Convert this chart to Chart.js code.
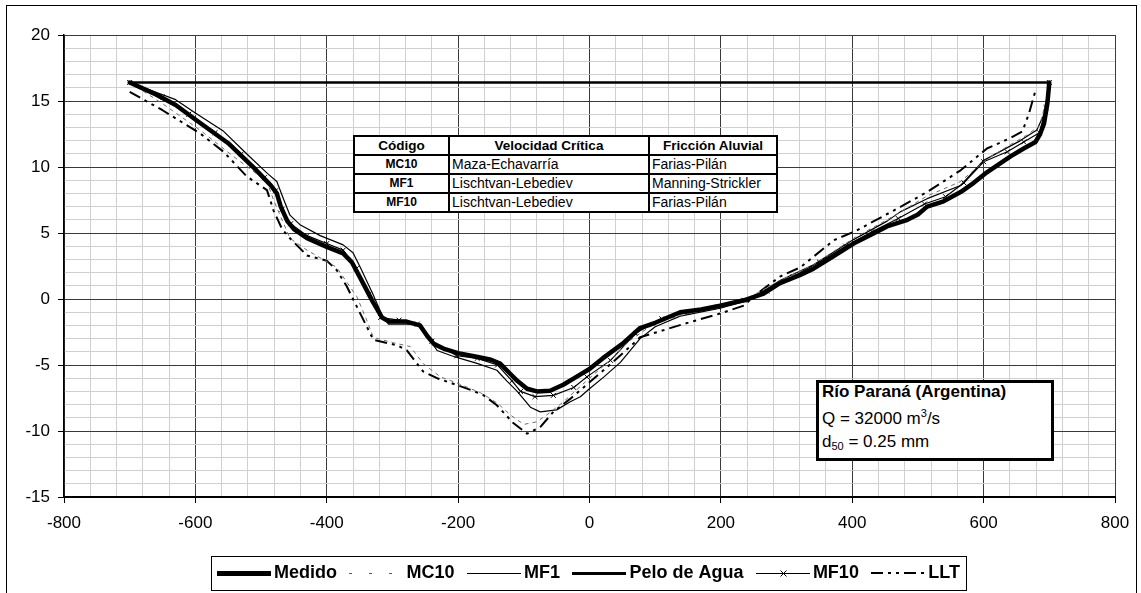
<!DOCTYPE html>
<html>
<head>
<meta charset="utf-8">
<title>Río Paraná - perfiles de socavación</title>
<script src="https://cdn.jsdelivr.net/npm/chart.js@4.4.0/dist/chart.umd.min.js"></script>
<style>
    html, body { margin: 0; padding: 0; background: #fff; }
    #wrap { position: relative; width: 1141px; height: 593px; overflow: hidden; font-family: "Liberation Sans", Arial, sans-serif; }
    #plot { position: absolute; left: 0; top: 0; }
    #frame { position: absolute; left: 6px; top: 5px; width: 1131px; height: 640px; border: 1px solid #000; box-sizing: border-box; pointer-events: none; }
    #codes { position: absolute; left: 353px; top: 135px; width: 423px; border-collapse: collapse; table-layout: fixed; background: #fff; }
    #codes th, #codes td { border: 2px solid #000; height: 17px; padding: 0 2px; white-space: nowrap; line-height: 15px; }
    #codes th { font-size: 13.5px; font-weight: bold; text-align: center; }
    #codes td { font-size: 14px; text-align: left; }
    #codes td.code { font-size: 12px; font-weight: bold; text-align: center; }
    #river { position: absolute; left: 816px; top: 380px; width: 238px; height: 81px; border: 3px solid #000; box-sizing: border-box; background: #fff; font-size: 17px; }
    #river div { position: absolute; left: 3px; white-space: nowrap; line-height: 19px; }
    #river sup, #river sub { font-size: 11px; line-height: 0; }
    #river sup { vertical-align: 7px; }
    #river sub { vertical-align: -3px; }
</style>
</head>
<body>
<div id="wrap">
    <canvas id="plot" width="1141" height="593"></canvas>
    <table id="codes">
        <colgroup><col style="width:95px"><col style="width:200px"><col style="width:128px"></colgroup>
        <tr><th>Código</th><th>Velocidad Crítica</th><th>Fricción Aluvial</th></tr>
        <tr><td class="code">MC10</td><td>Maza-Echavarría</td><td>Farias-Pilán</td></tr>
        <tr><td class="code">MF1</td><td>Lischtvan-Lebediev</td><td>Manning-Strickler</td></tr>
        <tr><td class="code">MF10</td><td>Lischtvan-Lebediev</td><td>Farias-Pilán</td></tr>
    </table>
    <div id="river">
        <div style="top:-1px;font-weight:bold">Río Paraná (Argentina)</div>
        <div style="top:26px">Q = 32000 m<sup>3</sup>/s</div>
        <div style="top:49px">d<sub>50</sub> = 0.25 mm</div>
    </div>
    <div id="frame"></div>
</div>
<script>
// Perfil medido del lecho (m) contra la abscisa transversal (m)
const medidoX = [-700, -660, -630, -600, -550, -510, -485, -476, -470, -460,
    -450, -430, -400, -375, -362, -349, -330, -316, -305, -280,
    -258, -247, -237, -220, -200, -170, -150, -136, -120, -110,
    -95, -80, -60, -40, -20, 0, 20, 50, 77, 100,
    138, 170, 199, 235, 265, 290, 320, 341, 370, 402,
    430, 453, 484, 500, 514, 539, 565, 585, 605, 641,
    661, 679, 686, 692, 697, 700]
const medidoY = [16.4, 15.5, 14.7, 13.6, 11.8, 9.9, 8.6, 8.0, 7.0, 5.9,
    5.3, 4.6, 3.95, 3.45, 2.8, 1.6, -0.2, -1.4, -1.7, -1.7,
    -2.0, -2.8, -3.4, -3.8, -4.1, -4.4, -4.6, -4.9, -5.7, -6.2,
    -6.8, -7.0, -6.95, -6.5, -5.9, -5.3, -4.5, -3.4, -2.2, -1.8,
    -1.0, -0.8, -0.5, -0.1, 0.4, 1.2, 1.8, 2.3, 3.2, 4.2,
    4.9, 5.5, 6.0, 6.4, 7.0, 7.4, 8.1, 8.8, 9.6, 10.8,
    11.4, 11.9, 12.5, 13.3, 14.8, 16.4]

// MC10: Maza-Echavarría / Farias-Pilán
const mc10X = [-700, -650, -593, -542, -491, -481, -456, -430, -385, -354,
    -340, -329, -300, -273, -253, -227, -200, -166, -140, -120,
    -100, -80, -60, -40, -20, 0, 30, 60, 100, 150,
    199, 235, 290, 341, 402, 453, 514, 565, 605, 641,
    665, 685, 695, 700]
const mc10Y = [16.4, 14.8, 12.8, 10.8, 8.9, 7.5, 4.6, 3.7, 2.4, 0.16,
    -1.5, -2.9, -3.3, -3.6, -4.9, -5.9, -6.4, -7.1, -7.9, -8.8,
    -9.5, -9.3, -8.6, -7.8, -6.9, -6.0, -4.7, -3.2, -1.8, -1.1,
    -0.6, -0.1, 1.4, 2.6, 4.6, 6.0, 7.8, 8.9, 10.6, 11.7,
    12.4, 13.1, 15.0, 16.4]

// MF1: Lischtvan-Lebediev / Manning-Strickler
const mf1X = [-700, -630, -600, -557, -522, -490, -476, -466, -456, -440,
    -410, -375, -360, -349, -330, -315, -306, -263, -250, -232,
    -210, -197, -170, -141, -126, -110, -90, -75, -50, -30,
    -14, 0, 22, 47, 77, 100, 138, 199, 235, 265,
    290, 341, 402, 453, 473, 514, 565, 600, 656, 681,
    692, 700]
const mf1Y = [16.4, 15.1, 14.1, 12.7, 11.0, 9.5, 8.9, 7.6, 6.35, 5.6,
    4.8, 4.1, 3.5, 2.4, 0.4, -1.3, -1.9, -1.9, -2.6, -3.9,
    -4.3, -4.5, -4.9, -5.4, -6.2, -7.0, -8.2, -8.55, -8.4, -7.8,
    -7.4, -6.8, -5.9, -4.8, -3.0, -2.1, -1.3, -0.7, -0.2, 0.6,
    1.4, 2.6, 4.5, 5.9, 6.6, 7.6, 8.6, 10.5, 12.0, 12.8,
    14.0, 16.4]

// Pelo de agua
const peloX = [-700, 700]
const peloY = [16.4, 16.4]

// MF10: Lischtvan-Lebediev / Farias-Pilán
const mf10X = [-700, -650, -610, -570, -530, -495, -478, -468, -455, -430,
    -400, -375, -355, -335, -318, -290, -262, -240, -202, -171,
    -140, -118, -105, -83, -55, -24, -4, 32, 70, 110,
    150, 195, 235, 270, 310, 350, 390, 430, 470, 510,
    542, 570, 600, 636, 661, 685, 695, 700]
const mf10Y = [16.4, 15.3, 14.0, 12.6, 11.0, 9.2, 8.2, 6.8, 5.7, 4.8,
    4.2, 3.7, 2.3, 0.4, -1.4, -1.6, -1.9, -3.2, -4.3, -4.5,
    -5.0, -6.2, -7.0, -7.4, -7.3, -6.7, -5.9, -4.65, -2.6, -1.5,
    -1.0, -0.6, -0.1, 0.6, 1.7, 2.8, 4.0, 5.1, 6.1, 7.2,
    7.75, 8.8, 10.4, 11.15, 11.9, 12.6, 14.5, 16.4]

// LLT
const lltX = [-700, -650, -593, -557, -522, -491, -481, -468, -456, -430,
    -400, -385, -370, -355, -344, -329, -293, -278, -253, -232,
    -180, -161, -141, -116, -95, -75, -55, -29, -9, 27,
    62, 77, 143, 199, 235, 250, 290, 321, 372, 407,
    463, 514, 565, 605, 641, 659, 669, 679]
const lltY = [15.7, 14.3, 12.55, 11.15, 9.3, 8.25, 6.7, 5.3, 4.6, 3.3,
    2.9, 2.2, 1.0, -0.5, -1.6, -3.1, -3.5, -3.9, -5.5, -6.0,
    -6.9, -7.3, -8.05, -9.4, -10.2, -9.7, -8.55, -7.55, -6.7, -5.15,
    -3.6, -2.9, -1.9, -1.1, -0.5, 0.2, 1.7, 2.4, 4.45, 5.2,
    6.7, 8.1, 9.75, 11.4, 12.2, 12.7, 14.05, 15.8]

// Ejes
const xMin = -800
const xMax = 800
const xStep = 40
const xLabelStep = 200
const yMin = -15
const yMax = 20
const yStep = 1
const yLabelStep = 5

const FONT = "'Liberation Sans', Arial, sans-serif"
const GRID_MAJOR = "#3a3a3a"
const GRID_MINOR = "#d0d0d0"

function points(xs, ys) {
    return xs.map((x, i) => ({ x: x, y: ys[i] }))
}

function series(label, xs, ys, style) {
    return Object.assign({
        label: label,
        data: points(xs, ys),
        borderColor: "#000",
        backgroundColor: "#000",
        borderWidth: 1.2,
        pointRadius: 0,
        tension: 0,
        fill: false,
        borderJoinStyle: "round"
    }, style)
}

// Leyenda dibujada dentro del canvas, con la muestra de línea de cada serie
const legendBox = {
    id: "legendBox",
    afterDraw(chart) {
        const c = chart.ctx
        const box = { left: 211, top: 556, right: 966, bottom: 590 }
        const first = 217
        const last = 960
        const sampleW = 54
        const cy = (box.top + box.bottom) / 2

        c.save()
        c.fillStyle = "#fff"
        c.fillRect(box.left, box.top, box.right - box.left, box.bottom - box.top)
        c.strokeStyle = "#000"
        c.lineWidth = 1
        c.setLineDash([])
        c.strokeRect(box.left + 0.5, box.top + 0.5, box.right - box.left, box.bottom - box.top)

        c.font = "bold 18px " + FONT
        c.textBaseline = "middle"
        const sets = chart.data.datasets
        const widths = sets.map(d => c.measureText(d.label).width)
        const used = sets.length * (sampleW + 3) + widths.reduce((a, b) => a + b, 0)
        const gap = (last - first - used) / (sets.length - 1)

        let x = first
        sets.forEach((d, i) => {
            const w = Math.max(1, Math.round(d.borderWidth))
            const ly = w % 2 ? cy + 0.5 : cy
            c.beginPath()
            c.setLineDash(d.legendDash || d.borderDash || [])
            c.lineWidth = w
            c.strokeStyle = d.legendColor || d.borderColor
            c.moveTo(Math.round(x), ly)
            c.lineTo(Math.round(x + sampleW), ly)
            c.stroke()
            if (d.pointStyle === "crossRot") {
                const mx = Math.round(x + sampleW / 2) + 0.5
                const r = 3
                c.setLineDash([])
                c.lineWidth = 1
                c.beginPath()
                c.moveTo(mx - r, ly - r)
                c.lineTo(mx + r, ly + r)
                c.moveTo(mx - r, ly + r)
                c.lineTo(mx + r, ly - r)
                c.stroke()
            }
            c.fillStyle = "#000"
            c.fillText(d.label, x + sampleW + 3, cy)
            x += sampleW + 3 + widths[i] + gap
        })
        c.restore()
    }
}

const datasets = [
    series("Medido", medidoX, medidoY, { borderWidth: 4.5, borderCapStyle: "round" }),
    series("MC10", mc10X, mc10Y, { borderColor: "#6e6e6e", borderWidth: 1, borderDash: [4, 4], legendDash: [3, 17], legendColor: "#555" }),
    series("MF1", mf1X, mf1Y, {}),
    series("Pelo de Agua", peloX, peloY, { borderWidth: 2.5 }),
    series("MF10", mf10X, mf10Y, {
        pointStyle: "crossRot",
        pointRadius: 3.5,
        pointBorderWidth: 1,
        pointBorderColor: "#000"
    }),
    series("LLT", lltX, lltY, { borderWidth: 2, borderDash: [12, 5, 3, 5, 3, 5] })
]

new Chart(document.getElementById("plot"), {
    type: "line",
    data: { datasets: datasets },
    plugins: [legendBox],
    options: {
        responsive: false,
        animation: false,
        devicePixelRatio: 1,
        layout: { padding: { top: 35, right: 26, bottom: 0, left: 0 } },
        plugins: {
            legend: { display: false },
            tooltip: { enabled: false }
        },
        scales: {
            x: {
                type: "linear",
                min: xMin,
                max: xMax,
                afterFit: scale => { scale.height = 96 },
                border: { color: "#000", width: 2 },
                grid: {
                    color: ctx => ctx.tick && ctx.tick.value % xLabelStep === 0 ? GRID_MAJOR : GRID_MINOR,
                    lineWidth: 1,
                    tickLength: 6,
                    tickColor: ctx => ctx.tick && ctx.tick.value % xLabelStep === 0 ? "#000" : "rgba(0,0,0,0)"
                },
                ticks: {
                    stepSize: xStep,
                    autoSkip: false,
                    maxRotation: 0,
                    padding: 10,
                    color: "#000",
                    font: { family: FONT, size: 17 },
                    callback: v => v % xLabelStep === 0 ? String(v) : ""
                }
            },
            y: {
                type: "linear",
                min: yMin,
                max: yMax,
                afterFit: scale => { scale.width = 64 },
                border: { color: "#000", width: 1.5 },
                grid: {
                    color: ctx => ctx.tick && ctx.tick.value % yLabelStep === 0 ? GRID_MAJOR : GRID_MINOR,
                    lineWidth: 1,
                    tickLength: 6,
                    tickColor: ctx => ctx.tick && ctx.tick.value % yLabelStep === 0 ? "#000" : "rgba(0,0,0,0)"
                },
                ticks: {
                    stepSize: yStep,
                    autoSkip: false,
                    padding: 8,
                    color: "#000",
                    font: { family: FONT, size: 17 },
                    callback: v => v % yLabelStep === 0 ? String(v) : ""
                }
            }
        }
    }
})
</script>
</body>
</html>
